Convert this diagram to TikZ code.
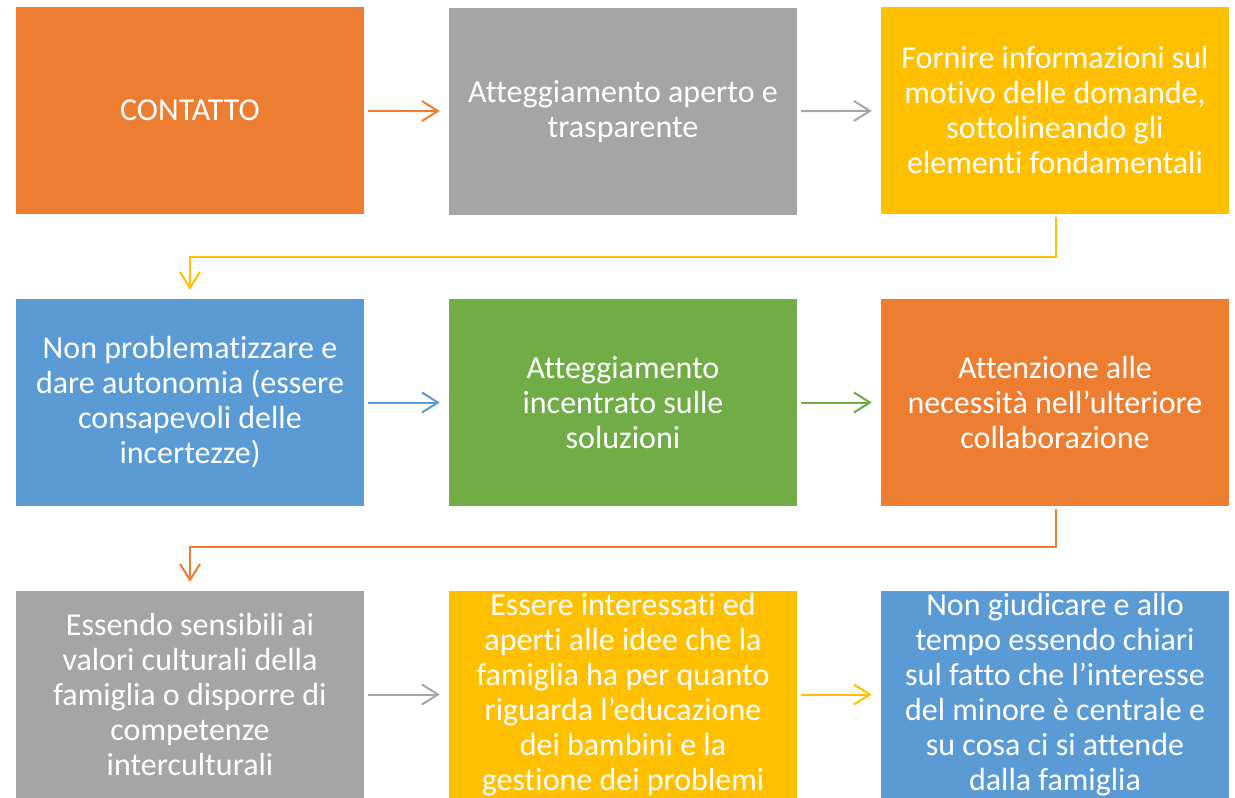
\documentclass[tikz,border=0pt]{standalone}
\usepackage{fontspec}
\setmainfont{Carlito}[Ligatures=NoCommon]
\usetikzlibrary{arrows.meta}

\definecolor{offorange}{HTML}{ED7D31}
\definecolor{offgrey}{HTML}{A5A5A5}
\definecolor{offyellow}{HTML}{FFC000}
\definecolor{offblue}{HTML}{5B9BD5}
\definecolor{offgreen}{HTML}{70AD47}

\tikzset{
  box/.style={minimum width=348pt,minimum height=207pt,inner sep=0pt,
    text=white,align=center,font=\fontsize{32}{35}\selectfont},
  link/.style={line width=2pt,-{Straight Barb[length=16pt,width=20pt,line width=2pt]},
    shorten <=4pt,shorten >=9pt},
  elbow/.style={line width=2pt,-{Straight Barb[length=16pt,width=20pt,line width=2pt]},
    shorten >=9pt}
}

\begin{document}
\begin{tikzpicture}[x=1pt,y=-1pt]
 \useasboundingbox (0,0) rectangle (1235,798);
 % first row
 \node[box,fill=offorange] (contatto) at (190,110.5) {CONTATTO};
 \node[box,fill=offgrey] (aperto) at (623,111.5) {Atteggiamento aperto e\\trasparente};
 \node[box,fill=offyellow] (informazioni) at (1055,110.5) {Fornire informazioni sul\\motivo delle domande,\\sottolineando gli\\elementi fondamentali};
 % second row
 \node[box,fill=offblue] (autonomia) at (190,402.5) {Non problematizzare e\\dare autonomia (essere\\consapevoli delle\\incertezze)};
 \node[box,fill=offgreen] (soluzioni) at (623,402.5) {Atteggiamento\\incentrato sulle\\soluzioni};
 \node[box,fill=offorange] (necessita) at (1055,402.5) {Attenzione alle\\necessità nell’ulteriore\\collaborazione};
 % third row
 \node[box,fill=offgrey] (valori) at (190,694.5) {Essendo sensibili ai\\valori culturali della\\famiglia o disporre di\\competenze\\interculturali};
 \node[box,fill=offyellow] (idee) at (623,694.5) {Essere interessati ed\\aperti alle idee che la\\famiglia ha per quanto\\riguarda l’educazione\\dei bambini e la\\gestione dei problemi};
 \node[box,fill=offblue] (giudicare) at (1055,694.5) {Non giudicare e allo\\tempo essendo chiari\\sul fatto che l’interesse\\del minore è centrale e\\su cosa ci si attende\\dalla famiglia};

 \draw[link,offorange] (contatto) -- (aperto);
 \draw[link,offgrey] (aperto) -- (informazioni);
 \draw[elbow,offyellow] ([xshift=1pt,yshift=-3pt]informazioni.south) -- ++(0,40) -| (autonomia.north);
 \draw[link,offblue] (autonomia) -- (soluzioni);
 \draw[link,offgreen] (soluzioni) -- (necessita);
 \draw[elbow,offorange] ([xshift=1pt,yshift=-3pt]necessita.south) -- ++(0,38) -| (valori.north);
 \draw[link,offgrey] (valori) -- (idee);
 \draw[link,offyellow] (idee) -- (giudicare);
\end{tikzpicture}
\end{document}
